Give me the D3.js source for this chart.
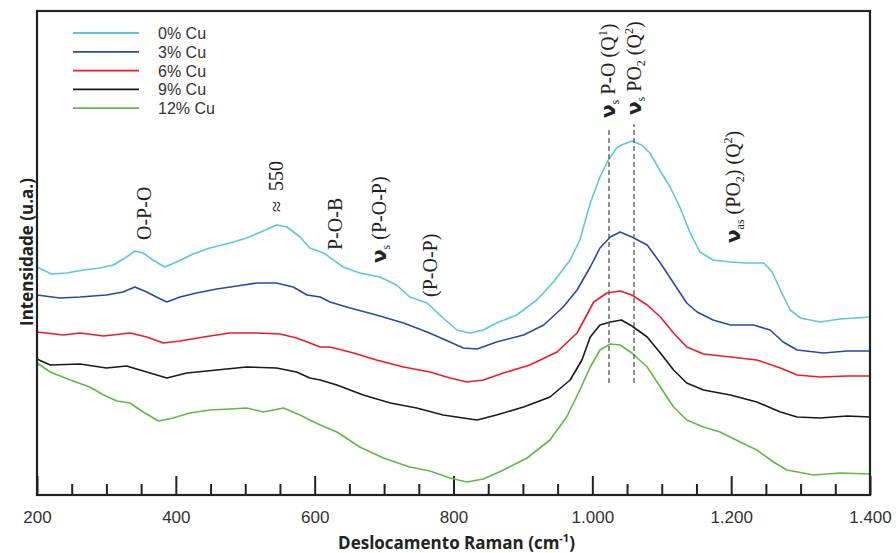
<html>
<head>
<meta charset="utf-8">
<title>Raman spectra</title>
<script src="https://cdnjs.cloudflare.com/ajax/libs/d3/7.8.5/d3.min.js"></script>
<style>
  body { margin: 0; background: #fff; }
  svg { display: block; }
  .tick text { font-family: "Liberation Sans", Arial, sans-serif; font-size: 17px; fill: #333; }
  .ann { font-family: "Liberation Serif", "Times New Roman", serif; font-size: 20px; fill: #222; }
  .title { font-family: "Open Sans", sans-serif; font-weight: bold; font-size: 17px; fill: #222; }
  .legend text { font-family: "Liberation Sans", Arial, sans-serif; font-size: 16px; fill: #333; }
</style>
</head>
<body>
<div id="chart"></div>
<script>
// Raman shift (cm-1) vs intensity (a.u.)
const cu0 = [[200,228],[221,221],[243,222],[267,225],[291,227],[310,230],[329,238],[341,244],[353,242],[367,235],[384,228],[401,233],[425,241],[449,247],[478,252],[502,257],[526,264],[545,270],[560,268],[579,258],[593,247],[613,242],[641,228],[665,222],[694,218],[718,210],[737,198],[762,192],[785,177],[805,165],[824,162],[843,165],[862,172],[891,180],[920,195],[944,213],[968,235],[982,255],[997,292],[1011,318],[1023,335],[1035,347],[1042,350],[1057,354],[1071,350],[1083,342],[1097,325],[1112,308],[1126,288],[1141,262],[1155,243],[1174,235],[1199,233],[1223,232],[1247,232],[1259,223],[1271,205],[1285,185],[1300,177],[1328,173],[1357,176],[1400,178]];
const cu3 = [[200,200],[233,197],[262,198],[300,200],[324,203],[341,208],[358,203],[372,198],[387,193],[406,198],[430,202],[459,206],[488,209],[517,212],[545,212],[569,208],[589,200],[608,198],[622,193],[651,187],[689,180],[728,172],[762,163],[795,153],[814,147],[834,146],[862,153],[901,160],[930,170],[958,188],[978,205],[997,228],[1011,247],[1026,258],[1040,263],[1057,258],[1079,250],[1098,232],[1117,212],[1136,192],[1151,183],[1174,175],[1199,170],[1232,170],[1256,165],[1275,153],[1295,145],[1333,142],[1367,144],[1400,144]];
const cu6 = [[200,163],[238,160],[262,162],[296,159],[334,162],[358,158],[382,152],[406,154],[440,158],[478,162],[517,162],[550,161],[574,157],[593,152],[608,148],[622,148],[656,142],[689,135],[728,128],[766,123],[795,117],[819,113],[843,115],[872,122],[910,130],[949,143],[978,162],[1002,193],[1021,202],[1040,204],[1057,200],[1079,190],[1098,178],[1117,162],[1136,148],[1160,141],[1199,138],[1237,135],[1271,127],[1295,120],[1328,118],[1367,119],[1400,119]];
const cu9 = [[200,136],[219,130],[262,131],[300,127],[329,129],[358,123],[387,117],[416,122],[459,125],[502,128],[545,127],[574,123],[593,117],[608,115],[632,110],[670,100],[709,92],[747,87],[785,80],[814,77],[834,75],[862,80],[901,88],[939,98],[968,115],[985,135],[997,158],[1011,170],[1026,173],[1042,175],[1057,169],[1079,158],[1098,142],[1117,125],[1136,112],[1160,105],[1199,100],[1237,93],[1271,83],[1295,78],[1328,77],[1367,79],[1400,78]];
const cu12 = [[200,132],[219,123],[248,115],[276,108],[296,100],[315,94],[334,92],[353,83],[375,74],[396,77],[420,82],[449,85],[478,86],[502,87],[526,83],[555,87],[579,80],[593,75],[608,70],[632,63],[665,48],[699,37],[737,28],[766,24],[795,17],[819,13],[843,16],[872,25],[906,37],[939,55],[963,78],[982,105],[997,128],[1011,145],[1026,151],[1040,150],[1057,142],[1079,128],[1098,108],[1117,88],[1136,75],[1160,68],[1184,63],[1213,53],[1237,45],[1261,33],[1280,25],[1319,20],[1357,22],[1400,21]];

const seriesNames = ["0% Cu", "3% Cu", "6% Cu", "9% Cu", "12% Cu"];
const seriesData = [cu0, cu3, cu6, cu9, cu12];
const colors = ["#5ec6dc", "#2a4aa0", "#ec1c24", "#1a1a1a", "#62b846"];

const xTicksMajor = [200, 400, 600, 800, 1000, 1200, 1400];
const xTicksMinor = d3.range(250, 1400, 50).filter(v => v % 200 !== 0);

// band positions marked with dashed lines, and the y span they cover
const bandLines = [[1024, 112, 367], [1060, 112, 371]];

// annotations: [shift, intensity, parts]
const annotations = [
  [364, 255, [["O-P-O"]]],
  [554, 283, [["\u2248  550"]]],
  [639, 245, [["P-O-B"]]],
  [703, 232, [["\u03bd", "b"], ["s", "sub"], [" (P-O-P)"]]],
  [776, 198, [["(P-O-P)"]]],
  [1033, 377, [["\u03bd", "b"], ["s", "sub"], [" P-O (Q"], ["1", "sup"], [")"]]],
  [1070, 380, [["\u03bd", "b"], ["s", "sub"], [" PO"], ["2", "sub"], [" (Q"], ["2", "sup"], [")"]]],
  [1213, 252, [["\u03bd", "b"], ["as", "sub"], [" (PO"], ["2", "sub"], [") (Q"], ["2", "sup"], [")"]]]
];

const W = 896, H = 553;
const margin = { top: 11, right: 26, bottom: 58, left: 37 };
const width = W - margin.left - margin.right;
const height = H - margin.top - margin.bottom;

const svg = d3.select("#chart").append("svg")
  .attr("width", W).attr("height", H);
const g = svg.append("g")
  .attr("transform", `translate(${margin.left},${margin.top})`);

const x = d3.scaleLinear().domain([200, 1400]).range([0, width]);
const y = d3.scaleLinear().domain([0, 484]).range([height, 0]);

const ptBR = d3.formatLocale({ decimal: ",", thousands: ".", grouping: [3], currency: ["R$", ""] });
const fmt = ptBR.format(",");

// minor ticks
g.append("g")
  .attr("transform", `translate(0,${height})`)
  .call(d3.axisBottom(x).tickValues(xTicksMinor).tickSize(-11).tickFormat(""))
  .call(a => a.select(".domain").remove())
  .selectAll("line").attr("stroke", "#222").attr("stroke-width", 2);

// major ticks with labels
g.append("g")
  .attr("transform", `translate(0,${height})`)
  .call(d3.axisBottom(x).tickValues(xTicksMajor).tickSize(-19).tickPadding(16).tickFormat(fmt))
  .call(a => a.select(".domain").remove())
  .call(a => a.selectAll(".tick text").attr("font-size", null).attr("font-family", null))
  .selectAll("line").attr("stroke", "#222").attr("stroke-width", 2);

const line = d3.line().x(d => x(d[0])).y(d => y(d[1]));

seriesData.forEach((s, i) => {
  g.append("path")
    .datum(s)
    .attr("fill", "none")
    .attr("stroke", colors[i])
    .attr("stroke-width", 1.6)
    .attr("stroke-linejoin", "round")
    .attr("d", line);
});

// dashed band markers
bandLines.forEach(b => {
  g.append("line")
    .attr("x1", x(b[0])).attr("x2", x(b[0]))
    .attr("y1", y(b[1])).attr("y2", y(b[2]))
    .attr("stroke", "#555").attr("stroke-width", 1.3)
    .attr("stroke-dasharray", "5,3");
});

// frame
g.append("rect")
  .attr("width", width).attr("height", height)
  .attr("fill", "none").attr("stroke", "#222").attr("stroke-width", 2.2);

// annotations
annotations.forEach(a => {
  const t = g.append("text")
    .attr("class", "ann")
    .attr("xml:space", "preserve")
    .attr("transform", `translate(${x(a[0])},${y(a[1])}) rotate(-90)`);
  let shift = 0;
  a[2].forEach(p => {
    const ts = t.append("tspan").text(p[0]);
    let target = 0;
    if (p[1] === "sub") { target = 4; ts.attr("font-size", 12); }
    if (p[1] === "sup") { target = -8; ts.attr("font-size", 12); }
    if (p[1] === "b") {
      ts.attr("font-family", "DejaVu Sans, sans-serif").attr("font-weight", "bold").attr("font-size", 20);
    }
    if (target !== shift) { ts.attr("dy", target - shift); shift = target; }
  });
});

// legend
const legend = g.append("g").attr("class", "legend");
seriesNames.forEach((name, i) => {
  const ly = 22 + i * 18.8;
  legend.append("line")
    .attr("x1", 36).attr("x2", 102)
    .attr("y1", ly).attr("y2", ly)
    .attr("stroke", colors[i]).attr("stroke-width", 1.8);
  legend.append("text")
    .attr("x", 121).attr("y", ly + 6)
    .text(name);
});

// axis titles
const xt = svg.append("text")
  .attr("class", "title")
  .attr("x", margin.left + width / 2 + 3).attr("y", 549)
  .attr("text-anchor", "middle");
xt.append("tspan").text("Deslocamento Raman (cm");
xt.append("tspan").text("-1").attr("font-size", 11).attr("dy", -7);
xt.append("tspan").text(")").attr("dy", 7);

svg.append("text")
  .attr("class", "title")
  .attr("transform", `translate(33,252) rotate(-90)`)
  .attr("text-anchor", "middle")
  .text("Intensidade (u.a.)");
</script>
</body>
</html>
